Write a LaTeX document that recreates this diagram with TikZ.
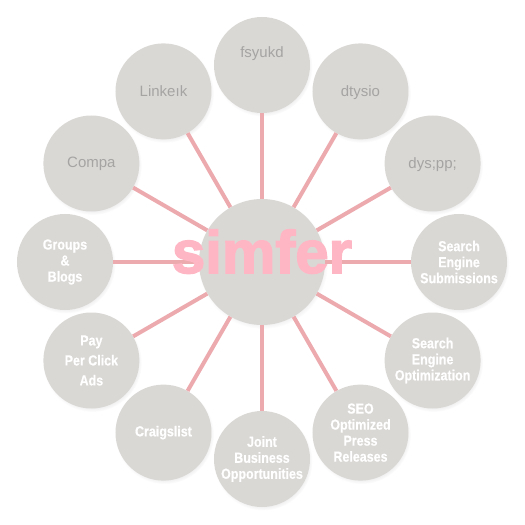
\documentclass[tikz,border=0pt]{standalone}
\usepackage{fontspec}
\setmainfont{Liberation Sans}
\newfontfamily\narrowfont{Liberation Sans}[FakeStretch=0.86,FakeBold=0.6]
\newfontfamily\titlefont{Liberation Sans}[FakeBold=2.5]
\usetikzlibrary{shadows}

\definecolor{bubblegray}{RGB}{218,216,213}
\definecolor{spokepink}{RGB}{236,170,174}
\definecolor{titlepink}{RGB}{255,182,196}
\definecolor{labelgray}{RGB}{166,164,162}

\tikzset{
  greylabel/.style={text=labelgray,font=\fontsize{15}{17}\selectfont},
  whitelabel/.style={text=white,font=\narrowfont\bfseries\fontsize{14.5}{16}\selectfont}
}

\begin{document}
\begin{tikzpicture}[x=1pt,y=1pt]
                \useasboundingbox (-262,-263) rectangle (263,262);
                \begin{scope}[every node/.style={circle,fill=bubblegray,minimum size=96pt,inner sep=0pt,align=center,
                        circular drop shadow={opacity=0.2,shadow xshift=1pt,shadow yshift=-2pt,shadow scale=1.03}}]
                    \node (hub) [minimum size=126pt] at (0,0) {};
                    \node (fsy) [greylabel] at (90:197) {fsyukd\\[8pt]};
                    \node (dty) [greylabel] at (60:197) {\\[-4pt]dtysio};
                    \node (dys) [greylabel] at (30:197) {\\[-4pt]dys;pp;};
                    \node (sub) [whitelabel] at (0:197) {Search\\Engine\\Submissions};
                    \node (opt) [whitelabel] at (-30:197) {Search\\Engine\\Optimization};
                    \node (seo) [whitelabel] at (-60:197) {SEO\\Optimized\\Press\\Releases};
                    \node (jbo) [whitelabel] at (-90:197) {Joint\\Business\\Opportunities};
                    \node (cra) [whitelabel] at (-120:197) {Craigslist};
                    \node (ppc) [whitelabel] at (-150:197) {Pay\\[4pt]Per Click\\[4pt]Ads};
                    \node (grp) [whitelabel] at (180:197) {Groups\\\&\\Blogs};
                    \node (cmp) [greylabel] at (150:197) {Compa};
                    \node (lnk) [greylabel] at (120:197) {Linkeık};
                \end{scope}
                \begin{scope}[every edge/.style={draw=spokepink,line width=4pt}]
                    \draw (hub) edge (fsy);
                    \draw (hub) edge (dty);
                    \draw (hub) edge (dys);
                    \draw (hub) edge (sub);
                    \draw (hub) edge (opt);
                    \draw (hub) edge (seo);
                    \draw (hub) edge (jbo);
                    \draw (hub) edge (cra);
                    \draw (hub) edge (ppc);
                    \draw (hub) edge (grp);
                    \draw (hub) edge (cmp);
                    \draw (hub) edge (lnk);
                \end{scope}
                \node (title) [anchor=base,text=titlepink,font=\titlefont\bfseries\fontsize{60}{60}\selectfont,inner sep=0pt] at (0,-11) {simfer};
            \end{tikzpicture}
\end{document}
